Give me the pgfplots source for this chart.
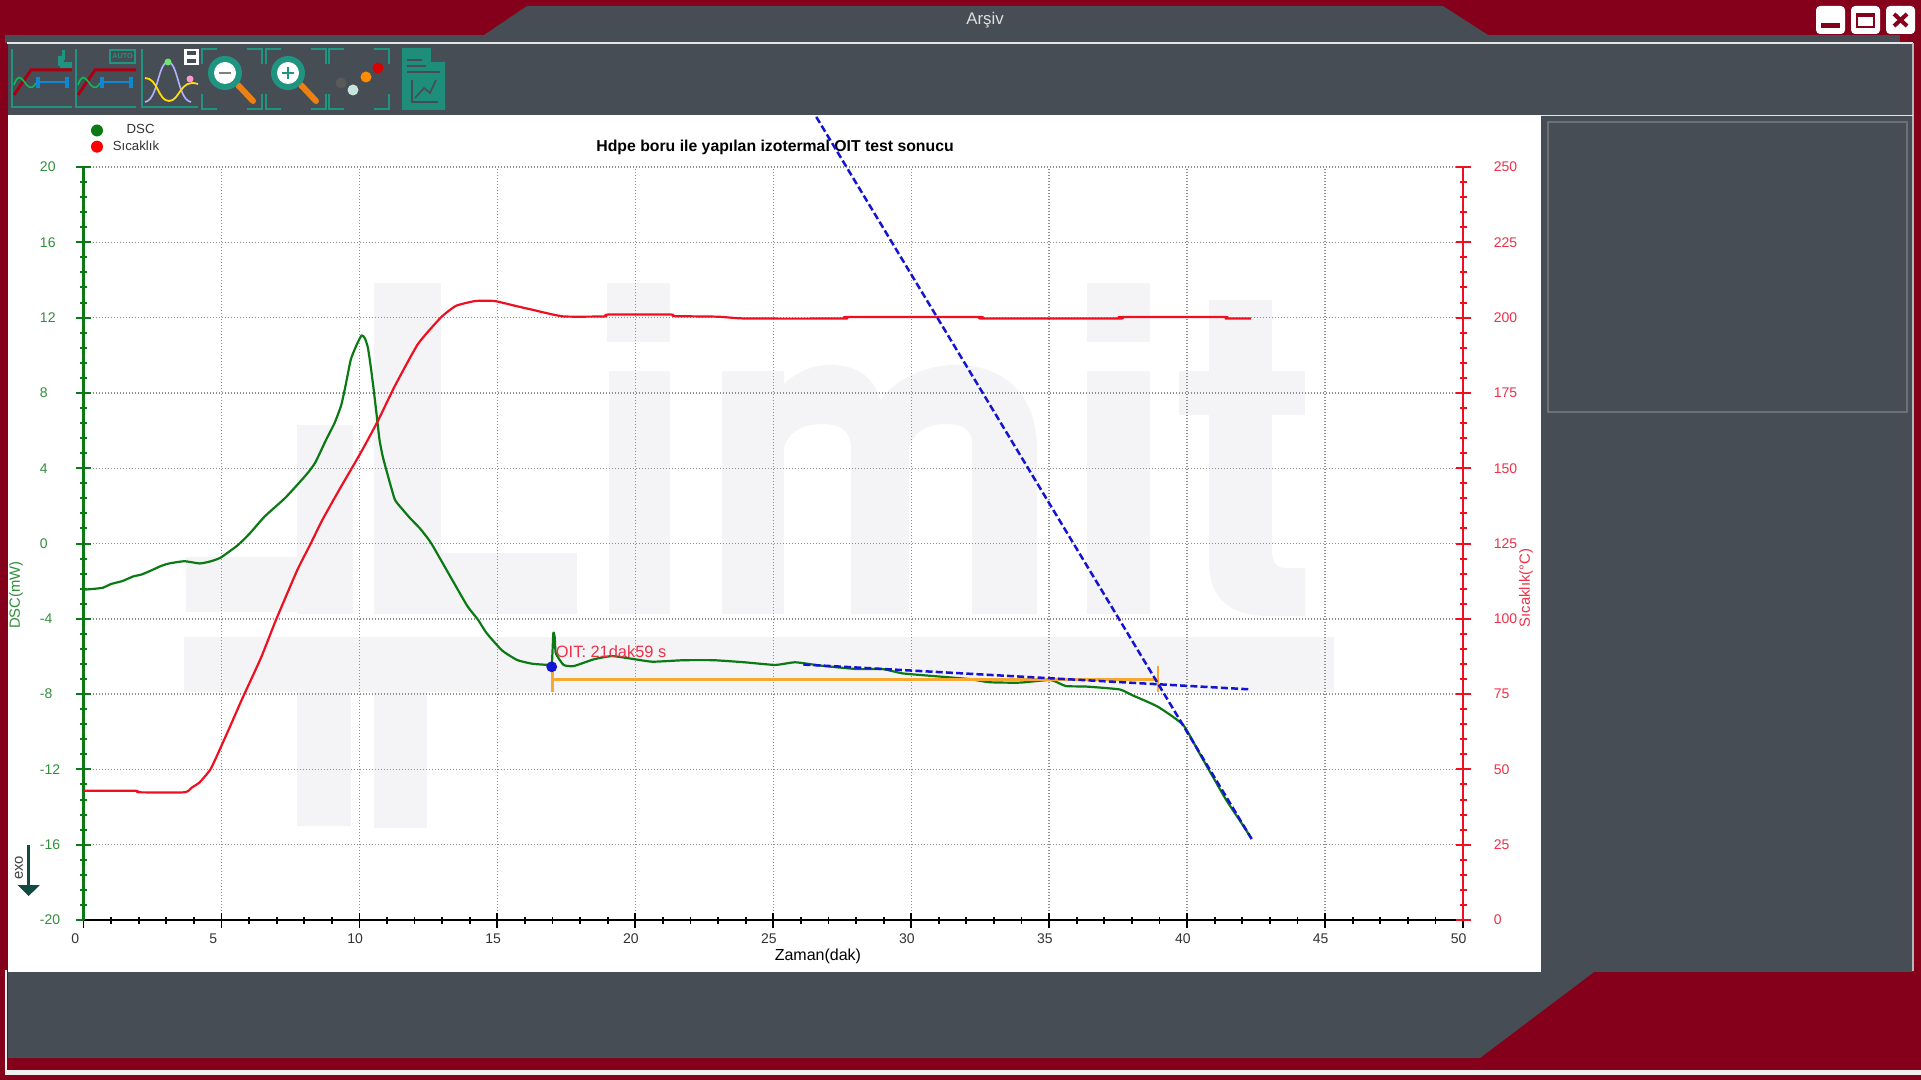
\documentclass[border=0pt]{standalone}
\usepackage{pgfplots}
\pgfplotsset{compat=1.18}
\usepackage{fontspec}
\setmainfont{Liberation Sans}
\definecolor{wine}{HTML}{85001A}
\definecolor{panel}{HTML}{474D54}
\definecolor{wm}{HTML}{F4F4F6}
\definecolor{dscg}{HTML}{0B7A14}
\definecolor{dsct}{HTML}{2F8F3A}
\definecolor{tred}{HTML}{EE1020}
\definecolor{ttxt}{HTML}{EE3048}
\definecolor{tanb}{HTML}{1414D2}
\definecolor{oran}{HTML}{F6A92E}
\definecolor{teal}{HTML}{1F9480}
\definecolor{gridc}{HTML}{909090}
\newcommand{\axisbox}{scale only axis,width=689.75pt,height=376.5pt,at={(41.75pt,-460pt)},anchor=south west,xmin=0,xmax=50}
\begin{document}
\begin{tikzpicture}
\useasboundingbox (0,0) rectangle (960.5pt,-540pt);
\begin{scope}[x=0.5pt,y=-0.5pt]
% window
\fill[wine] (0,0) rectangle (1921,1080);
\fill[panel] (5,35) rectangle (1900,43);
\fill[panel] (484,35) -- (527,6) -- (1443,6) -- (1488,35) -- cycle;
\fill[panel] (8,44) rectangle (1913,116);
\draw[white!80!gray,line width=1pt] (7,43) -- (1913,43);
\fill[panel] (1540,116) rectangle (1913,972);
\fill[white] (8,115) rectangle (1541,972);
\draw[white!60!panel,line width=0.7pt] (1913,43) -- (1913,971);
\draw[white!80!gray,line width=0.8pt] (1541,115.5) -- (1913,115.5);
\draw[white!20!panel,line width=1pt] (1548,122) rectangle (1907,412);
\fill[panel] (1480,1058) -- (1594,972) -- (8,972) -- (8,1058) -- cycle;
\fill[wine] (1480,1059) -- (1594,973) -- (1921,973) -- (1921,1059) -- cycle;
\fill[white!88!gray] (5,1070) rectangle (1921,1075);
\fill[white!88!gray] (5,970) rectangle (7,1075);
\node[text=white!75!gray,font=\fontsize{8.4}{8.4}\selectfont] at (985,20) {Arşiv};
% window buttons
\fill[white,rounded corners=2pt] (1816,6) rectangle (1845,34);
\fill[white,rounded corners=2pt] (1851,6) rectangle (1880,34);
\fill[white,rounded corners=2pt] (1886,6) rectangle (1915,34);
\fill[wine] (1821,23) rectangle (1840,28);
\draw[wine,line width=1.3pt] (1857,14) rectangle (1874,27);
\fill[wine] (1856,13) rectangle (1875,17);
\draw[wine,line width=2pt] (1894,14) -- (1907,26) (1907,14) -- (1894,26);
% toolbar: two curve icons
\foreach \dx in {0,64}{
 \begin{scope}[xshift=\dx*0.5pt]
 \draw[teal,line width=0.6pt] (12,49) -- (12,107) -- (72,107);
 \draw[wine!70!red,line width=1.5pt] (14,95) -- (31,70) -- (72,70);
 \draw[teal!70!green,line width=0.8pt] (14,85) .. controls (22,62) and (26,100) .. (36,83);
 \draw[cyan!70!blue,line width=1pt] (38,82) -- (67,82);
 \fill[cyan!70!blue] (36,77) rectangle (40,88);
 \fill[cyan!70!blue] (65,77) rectangle (69,88);
 \end{scope}}
\fill[teal] (58,56) rectangle (64,66); \fill[teal] (60,62) rectangle (72,68);\fill[teal] (62,50) rectangle (65,60);
\draw[teal,line width=0.6pt] (110,50) rectangle (135,63);
\node[text=teal,font=\fontsize{3.6}{3.6}\bfseries\selectfont] at (122.5,56.5) {AUTO};
% gauss icon
\draw[teal,line width=0.6pt] (142,49) -- (142,107) -- (198,107);
\draw[white!70!blue,line width=0.8pt] (145,102) .. controls (158,100) and (158,62) .. (168,62) .. controls (178,62) and (178,100) .. (191,102);
\draw[yellow!80!orange,line width=0.9pt] (145,78) .. controls (158,78) and (158,101) .. (169,101) .. controls (180,101) and (180,78) .. (198,84);
\fill[green!60!white!80!gray] (168,62) circle (3.5);
\fill[pink!80!magenta] (190,79) circle (3.5);
\fill[white] (184,49) rectangle (199,65);
\fill[panel] (187,51) rectangle (196,55); \fill[panel] (187,59) rectangle (196,63.5);
% brackets
\foreach \xa/\xb in {202/262,266/326,329/389}{
 \draw[teal,line width=0.8pt] (\xa+15,49) -- (\xa,49) -- (\xa,64);
 \draw[teal,line width=0.8pt] (\xb-15,49) -- (\xb,49) -- (\xb,64);
 \draw[teal,line width=0.8pt] (\xa+15,109) -- (\xa,109) -- (\xa,94);
 \draw[teal,line width=0.8pt] (\xb-15,109) -- (\xb,109) -- (\xb,94);}
\foreach \cx in {225,288}{
 \draw[orange!70!brown,line width=3pt,line cap=round] (\cx+13,85) -- (\cx+28,101);
 \fill[teal] (\cx,73) circle (17);
 \fill[white] (\cx,73) circle (11);}
\draw[gray,line width=1.2pt] (219,73) -- (231,73);
\draw[teal,line width=1.2pt] (282,73) -- (294,73) (288,67) -- (288,79);
\fill[gray!70!black] (341,83) circle (5.5);
\fill[white!75!teal] (353,90) circle (5.5);
\fill[orange!90!yellow] (366,77) circle (5.5);
\fill[red!85!black] (378,68) circle (5.5);
% document icon
\fill[teal!95!black] (402,48) -- (431,48) -- (445,62) -- (445,110) -- (402,110) -- cycle;
\fill[panel] (431,48) -- (445,62) -- (431,62) -- cycle;
\draw[panel,line width=0.8pt] (407,60) -- (422,60) (407,66) -- (426,66) (407,72) -- (440,72);
\draw[panel,line width=0.6pt] (412,80) -- (412,102) -- (438,102);
\draw[panel,line width=0.8pt] (415,98) -- (424,88) -- (430,93) -- (436,80);
% watermark
\begin{scope}[wm]
\fill (186,557) rectangle (353,612);
\fill (297,425) rectangle (353,614);
\fill (374,283) rectangle (441,614);
\fill (374,553) rectangle (577,614);
\fill (607,283) rectangle (670,342);
\fill (609,371) rectangle (670,614);
\fill (722,371) rectangle (784,614);
\fill (851,440) rectangle (909,614);
\fill (972,440) rectangle (1037,614);
\fill (750,440) .. controls (770,385) and (800,365) .. (830,365) .. controls (860,365) and (875,380) .. (880,400) .. controls (895,380) and (925,365) .. (955,365) .. controls (1005,365) and (1037,395) .. (1037,450) -- (972,450) .. controls (972,440) and (975,424) .. (945,424) .. controls (920,424) and (909,440) .. (909,450) -- (851,450) .. controls (851,440) and (850,424) .. (822,424) .. controls (795,424) and (784,440) .. (784,450) -- cycle;
\fill (1087,283) rectangle (1150,342);
\fill (1087,371) rectangle (1150,614);
\fill (1209,300) rectangle (1272,570);
\fill (1179,371) rectangle (1305,415);
\fill (1209,560) .. controls (1209,600) and (1230,616) .. (1270,616) -- (1305,616) -- (1305,568) -- (1285,568) .. controls (1275,568) and (1272,560) .. (1272,550) -- cycle;
\fill (184,637) rectangle (1334,692);
\fill (297,692) rectangle (351,826);
\fill (374,692) rectangle (427,828);
\end{scope}
\end{scope}

% DSC axis: grid, ticks, green curve
\begin{axis}[\axisbox,ymin=-20,ymax=20,
 axis x line*=bottom,axis y line*=left,axis line style={-},
 xtick distance=5,minor x tick num=4,ytick distance=4,minor y tick num=4,
 tick align=center,major tick length=7.5pt,minor tick length=3.5pt,
 grid=major,major grid style={gridc,line width=0.7pt,dash pattern=on 0.7pt off 0.8pt},
 x axis line style={black,line width=1.4pt},
 y axis line style={dscg,line width=1.3pt},
 xtick style={black,line width=0.9pt},
 ytick style={dscg,line width=1pt},
 /pgf/number format/assume math mode=true,
 x tick label style={font=\fontsize{7}{7}\selectfont,text=black!80,xshift=-6.25pt,inner sep=0pt,anchor=west,yshift=-5.5pt},
 y tick label style={font=\fontsize{7}{7}\selectfont,text=dsct,anchor=west,inner sep=0pt,xshift=-18.2pt,yshift=0pt},
 title={\textbf{Hdpe boru ile yapılan izotermal OIT test sonucu}},
 every axis title shift=0pt,
 title style={at={(axis description cs:0.5013,1.0265)},anchor=center,font=\fontsize{7.9}{7.9}\selectfont,inner sep=0pt},
 xlabel={Zaman(dak)},
 xlabel style={at={(axis description cs:0.5324,-0.0478)},anchor=center,font=\fontsize{8}{8}\selectfont,inner sep=0pt},
 ylabel={DSC(mW)},
 ylabel style={at={(axis description cs:-0.0489,0.4316)},anchor=center,font=\fontsize{7.4}{7.4}\selectfont,text=dsct,inner sep=0pt},
 clip=false]
\addplot[dscg,line width=1.1pt,line join=round,smooth,tension=0.3] coordinates {
(0,-2.45)(0.3,-2.42)(0.7,-2.35)(1,-2.15)(1.4,-2.0)(1.8,-1.75)(2.1,-1.65)(2.41,-1.46)(2.8,-1.2)(3.1,-1.06)(3.66,-0.94)(4.21,-1.06)(4.6,-0.95)(4.97,-0.75)(5.6,-0.08)(6.03,0.54)(6.57,1.44)(7.33,2.45)(8.09,3.68)(8.4,4.3)(8.79,5.5)(9.1,6.4)(9.34,7.34)(9.5,8.4)(9.69,9.78)(9.9,10.55)(10.08,11.06)(10.2,10.9)(10.31,10.39)(10.42,9.3)(10.52,8.15)(10.62,6.9)(10.73,5.5)(10.85,4.6)(11,3.78)(11.28,2.35)(11.53,1.87)(11.84,1.34)(12.19,0.81)(12.6,0.02)(13.36,-1.92)(13.92,-3.34)(14.3,-4.05)(14.61,-4.76)(15.17,-5.68)(15.72,-6.19)(16.28,-6.39)(16.83,-6.45)(16.97,-6.5)(17.03,-4.76)(17.08,-5.0)(17.12,-5.83)(17.4,-6.45)(17.77,-6.51)(18.5,-6.15)(19.16,-5.98)(19.99,-6.15)(20.63,-6.28)(21.75,-6.2)(22.85,-6.2)(23.96,-6.31)(25.07,-6.45)(25.8,-6.31)(26.74,-6.49)(28.03,-6.67)(28.96,-6.67)(29.69,-6.9)(30.8,-7.04)(32.1,-7.2)(32.84,-7.37)(33.94,-7.39)(35.05,-7.25)(35.6,-7.57)(36.35,-7.6)(37.55,-7.75)(38.0,-8.05)(38.94,-8.67)(39.86,-9.64)(40.45,-11.15)(41,-12.56)(41.42,-13.63)(41.9,-14.69)(42.33,-15.66)};
\end{axis}

% temperature axis
\begin{axis}[\axisbox,ymin=0,ymax=250,
 axis x line=none,axis y line*=right,axis line style={-},
 ytick distance=25,minor y tick num=4,
 tick align=center,major tick length=7.5pt,minor tick length=3.5pt,
 y axis line style={tred,line width=1.3pt},
 ytick style={tred,line width=1pt},
 /pgf/number format/assume math mode=true,
 y tick label style={font=\fontsize{7}{7}\selectfont,text=ttxt,anchor=west,inner sep=0pt,xshift=11.5pt,yshift=0pt},
 ylabel={Sıcaklık(°C)},
 ylabel style={at={(axis description cs:1.0457,0.4409)},anchor=center,rotate=0,font=\fontsize{7.4}{7.4}\selectfont,text=ttxt,inner sep=0pt},
 clip=false]
\addplot[tred,line width=1.1pt,line join=round,smooth,tension=0.3] coordinates {
(0,42.9)(1.9,42.9)(2.0,42.4)(3.66,42.4)(3.93,44.0)(4.21,45.7)(4.6,50)(4.9,55.8)(5.3,64)(5.73,73)(6.43,87)(6.98,99.7)(7.75,116.2)(8.21,124.5)(8.65,132.7)(9.28,143)(10.04,155)(10.66,165.5)(11.28,177.2)(12.12,191.2)(12.95,200)(13.5,203.9)(14.2,205.5)(14.9,205.5)(15.7,203.8)(16.27,202.6)(17.38,200.4)(18.9,200.4)(19,201)(21.3,201)(21.4,200.5)(23,200.3)(24,199.7)(27.6,199.7)(27.7,200.2)(32.47,200.2)(32.6,199.7)(37.53,199.7)(37.6,200.2)(41.34,200.2)(41.4,199.7)(42.31,199.7)};
\end{axis}

% evaluation overlay on the DSC scale
\begin{axis}[\axisbox,ymin=-20,ymax=20,hide axis,clip=false]
\addplot[oran,line width=1.5pt] coordinates {(17.0,-7.2)(38.94,-7.2)};
\addplot[oran,line width=1.2pt] coordinates {(17.0,-6.53)(17.0,-7.87)};
\addplot[oran,line width=1.2pt] coordinates {(38.94,-6.53)(38.94,-7.87)};
\addplot[tanb,line width=1.25pt,dash pattern=on 3.5pt off 1.6pt] coordinates {(26.09,-6.43)(42.31,-7.75)};
\addplot[tanb,line width=1.25pt,dash pattern=on 3.5pt off 1.6pt] coordinates {(26.56,22.66)(42.34,-15.7)};
\addplot[only marks,mark=*,mark size=2.5pt,mark options={tanb,fill=tanb}] coordinates {(16.97,-6.55)};
\node[anchor=west,inner sep=0pt,text=ttxt,font=\fontsize{8.2}{8.2}\selectfont] at (axis cs:17.11,-5.77) {OIT: 21dak59 s};
\end{axis}

\begin{scope}[x=0.5pt,y=-0.5pt]
% legend
\fill[dscg] (97,130.5) circle (6);
\fill[red] (97,146.7) circle (6);
\node[font=\fontsize{6.6}{6.6}\selectfont,text=black!80] at (140.6,129) {DSC};
\node[font=\fontsize{6.6}{6.6}\selectfont,text=black!80] at (136,145.5) {Sıcaklık};
% exo arrow
\fill[teal!50!black] (26.8,845) rectangle (30.4,885);
\fill[teal!50!black] (17.5,885) -- (40,885) -- (28.6,896) -- cycle;
\node[rotate=90,font=\fontsize{7.4}{7.4}\selectfont,text=black!75] at (19,868) {exo};
\end{scope}
\end{tikzpicture}
\end{document}
